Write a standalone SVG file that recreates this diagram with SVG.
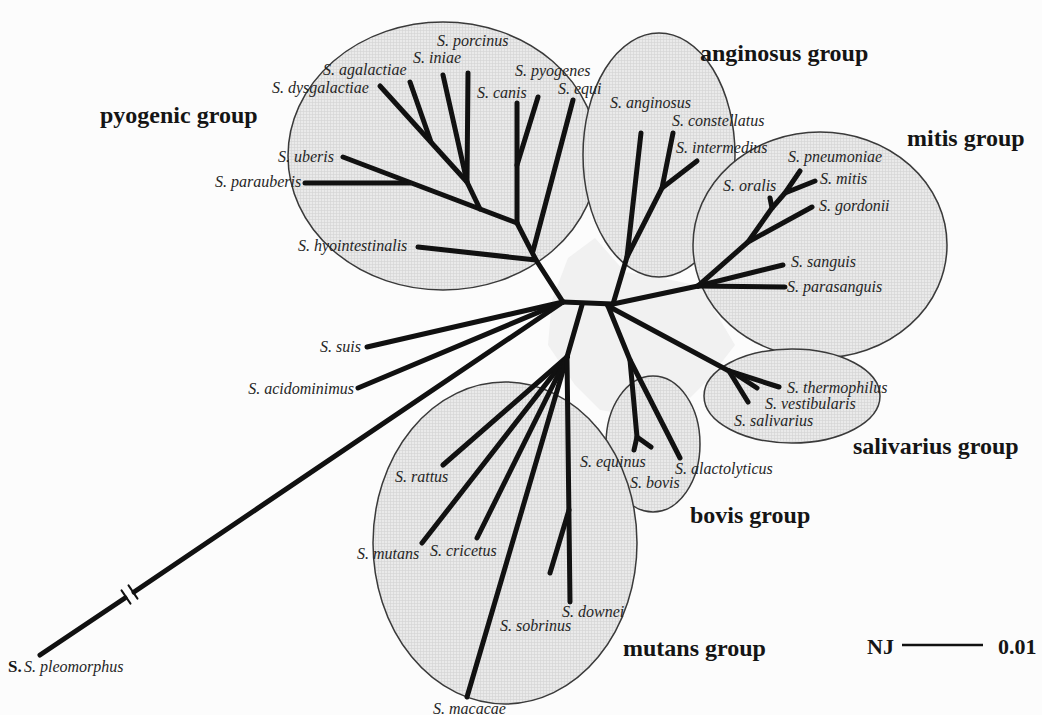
<svg xmlns="http://www.w3.org/2000/svg" width="1042" height="715" viewBox="0 0 1042 715">
<defs>
<pattern id="grid" width="3" height="3" patternUnits="userSpaceOnUse">
<rect width="3" height="3" fill="#eaeaea"/>
<path d="M0 0.5H3M0.5 0V3" stroke="#d6d6d6" stroke-width="0.7"/>
</pattern>
<style>
.grp ellipse{fill:url(#grid);stroke:#3a3a3a;stroke-width:1.5}
.br{fill:none;stroke:#111;stroke-width:5;stroke-linecap:round;stroke-linejoin:round}
.mk{fill:none;stroke:#111;stroke-width:2}
.sp{font-family:"Liberation Serif",serif;font-style:italic;font-size:16px;fill:#262626}
.gl{font-family:"Liberation Serif",serif;font-weight:bold;font-size:24px;fill:#151515}
.nj{font-family:"Liberation Serif",serif;font-weight:bold;font-size:22px;fill:#151515}
</style>
</defs>
<rect width="1042" height="715" fill="#fcfcfc"/>
<polygon points="552,300 568,258 595,238 625,272 662,278 700,286 735,345 708,380 690,398 655,378 612,412 600,410 575,385 548,345" fill="#f1f1f1"/>

<g id="pyogenic-group" class="grp"><ellipse cx="443" cy="156" rx="155" ry="134"/></g>
<g id="anginosus-group" class="grp"><ellipse cx="659" cy="155" rx="76" ry="122"/></g>
<g id="mitis-group" class="grp"><ellipse cx="820" cy="245" rx="127" ry="113"/></g>
<g id="salivarius-group" class="grp"><ellipse cx="792" cy="396" rx="88" ry="47"/></g>
<g id="bovis-group" class="grp"><ellipse cx="653" cy="444" rx="47" ry="68"/></g>
<g id="mutans-group" class="grp"><ellipse cx="505" cy="543" rx="132" ry="161"/></g>

<g id="connectors" class="br">
<path d="M563 302L613 304"/>
<path d="M563 302L536 260L517 223"/>
<path d="M536 260L418 247"/>
<path d="M533 251L573 100"/>
<path d="M517 223L517 103"/>
<path d="M517 165L538 97"/>
<path d="M517 223L343 157"/>
<path d="M410 183L305 183"/>
<path d="M480 209L467 182L468 73"/>
<path d="M467 182L443 75"/>
<path d="M467 182L380 86"/>
<path d="M431 142L410 82"/>
<path d="M563 302L367 347"/>
<path d="M563 302L358 388"/>
<path d="M563 302L134 592"/>
<path d="M125 598L40 655"/>
<path d="M582 305L567 357"/>
<path d="M567 357L443 465"/>
<path d="M567 357L422 543"/>
<path d="M567 357L477 538"/>
<path d="M567 357L467 697"/>
<path d="M567 357L570 602"/>
<path d="M569 510L550 573"/>
<path d="M613 304L627 257L641 133"/>
<path d="M627 257L662 188L673 133"/>
<path d="M662 188L697 161"/>
<path d="M613 304L698 286"/>
<path d="M698 286L783 265"/>
<path d="M698 286L785 287"/>
<path d="M698 286L748 242L772 208L785 193L800 171"/>
<path d="M785 193L815 181"/>
<path d="M772 208L770 198"/>
<path d="M748 242L812 207"/>
<path d="M608 306L729 371"/>
<path d="M729 371L779 387"/>
<path d="M729 371L748 402"/>
<path d="M737 375L757 388"/>
<path d="M608 306L630 360L680 458"/>
<path d="M630 360L637 437L634 450"/>
<path d="M637 437L651 447"/>
<path class="mk" d="M121.5 590.4L130.5 603.6M128.5 585.4L137.5 598.6"/>
<path d="M902 645H983" style="stroke-width:2.5;stroke-linecap:butt"/>
</g>

<g id="labels-species">
<g id="n-porcinus"><text class="sp" x="437" y="46">S. porcinus</text></g>
<g id="n-iniae"><text class="sp" x="413" y="63">S. iniae</text></g>
<g id="n-agalactiae"><text class="sp" x="323" y="75">S. agalactiae</text></g>
<g id="n-dysgalactiae"><text class="sp" x="272" y="93">S. dysgalactiae</text></g>
<g id="n-pyogenes"><text class="sp" x="515" y="76">S. pyogenes</text></g>
<g id="n-canis"><text class="sp" x="477" y="98">S. canis</text></g>
<g id="n-equi"><text class="sp" x="558" y="94">S. equi</text></g>
<g id="n-uberis"><text class="sp" x="278" y="162">S. uberis</text></g>
<g id="n-parauberis"><text class="sp" x="215" y="187">S. parauberis</text></g>
<g id="n-hyointestinalis"><text class="sp" x="298" y="251">S. hyointestinalis</text></g>
<g id="n-anginosus"><text class="sp" x="610" y="108">S. anginosus</text></g>
<g id="n-constellatus"><text class="sp" x="672" y="126">S. constellatus</text></g>
<g id="n-intermedius"><text class="sp" x="676" y="153">S. intermedius</text></g>
<g id="n-pneumoniae"><text class="sp" x="788" y="162">S. pneumoniae</text></g>
<g id="n-mitis"><text class="sp" x="820" y="184">S. mitis</text></g>
<g id="n-oralis"><text class="sp" x="723" y="191">S. oralis</text></g>
<g id="n-gordonii"><text class="sp" x="819" y="211">S. gordonii</text></g>
<g id="n-sanguis"><text class="sp" x="791" y="267">S. sanguis</text></g>
<g id="n-parasanguis"><text class="sp" x="787" y="292">S. parasanguis</text></g>
<g id="n-thermophilus"><text class="sp" x="787" y="393">S. thermophilus</text></g>
<g id="n-vestibularis"><text class="sp" x="765" y="409">S. vestibularis</text></g>
<g id="n-salivarius"><text class="sp" x="734" y="426">S. salivarius</text></g>
<g id="n-alactolyticus"><text class="sp" x="675" y="474">S. alactolyticus</text></g>
<g id="n-equinus"><text class="sp" x="580" y="467">S. equinus</text></g>
<g id="n-bovis"><text class="sp" x="630" y="488">S. bovis</text></g>
<g id="n-suis"><text class="sp" x="320" y="352">S. suis</text></g>
<g id="n-acidominimus"><text class="sp" x="354" y="394" text-anchor="end">S. acidominimus</text></g>
<g id="n-rattus"><text class="sp" x="395" y="482">S. rattus</text></g>
<g id="n-mutans"><text class="sp" x="357" y="559">S. mutans</text></g>
<g id="n-cricetus"><text class="sp" x="430" y="556">S. cricetus</text></g>
<g id="n-downei"><text class="sp" x="562" y="617">S. downei</text></g>
<g id="n-sobrinus"><text class="sp" x="500" y="631">S. sobrinus</text></g>
<g id="n-macacae"><text class="sp" x="433" y="714">S. macacae</text></g>
<g id="n-pleomorphus"><text x="8" y="672" style="font-family:'Liberation Serif',serif;font-weight:bold;font-size:17px;fill:#151515">S.</text><text class="sp" x="24" y="672">S. pleomorphus</text></g>
</g>

<g id="labels-groups">
<text class="gl" x="100" y="123">pyogenic group</text>
<text class="gl" x="700" y="61">anginosus group</text>
<text class="gl" x="907" y="146">mitis group</text>
<text class="gl" x="853" y="454">salivarius group</text>
<text class="gl" x="690" y="523">bovis group</text>
<text class="gl" x="623" y="656">mutans group</text>
</g>
<g id="scale">
<text class="nj" x="867" y="654">NJ</text>
<text class="nj" x="998" y="654">0.01</text>
</g>
</svg>
